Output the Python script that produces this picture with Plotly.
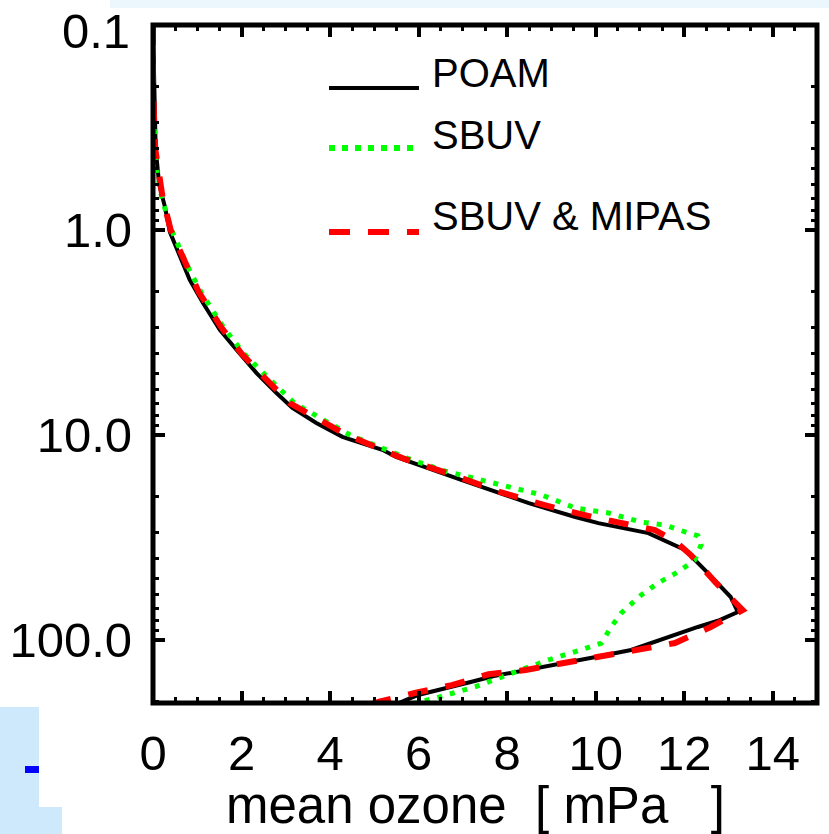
import numpy as np
import plotly.graph_objects as go

# ---- data (pressure in hPa, ozone partial pressure in mPa) ----
poam_p = [0.1, 0.2, 0.4, 0.6, 0.77, 1.02, 1.36, 1.75, 2.27, 3.07, 3.85, 4.99, 6.24, 7.38, 8.74,
          10.2, 11.8, 12.8, 16.6, 19.2, 21.5, 25.1, 26.9, 30.1, 36.4, 45.6, 61.7, 73.0, 80.0,
          86.4, 97.8, 111.9, 121.0, 129.5, 140.0, 150.0, 160.0, 171.0, 185.0, 196.0, 203.0, 215.0]
poam_v = [0.0, 0.02, 0.06, 0.14, 0.27, 0.38, 0.61, 0.83, 1.13, 1.51, 1.89, 2.34, 2.79, 3.15, 3.69,
          4.28, 5.18, 5.49, 6.98, 7.81, 8.49, 9.54, 10.06, 11.19, 12.02, 12.47, 13.05, 13.21, 12.8,
          12.31, 11.57, 10.8, 10.0, 9.3, 8.5, 7.7, 7.2, 6.62, 6.01, 5.72, 5.56, 5.3]

sbuv_p = [0.1, 0.2, 0.3, 0.5, 0.7, 1.0, 1.5, 2.0, 3.0, 4.0, 5.0, 7.0, 10.0, 13.0, 15.0, 17.5,
          19.6, 22.7, 24.0, 26.6, 27.5, 29.7, 31.0, 34.4, 40.7, 46.6, 52.7, 60.3, 73.8, 86.4,
          103.5, 114.0, 125.0, 143.0, 169.0, 190.0, 215.0]
sbuv_v = [0.0, -0.03, 0.02, 0.08, 0.2, 0.42, 0.78, 1.08, 1.6, 2.05, 2.5, 3.2, 4.45, 5.75, 6.6, 7.81,
          8.78, 9.54, 10.29, 11.03, 11.57, 12.02, 12.31, 12.38, 12.24, 11.86, 11.41, 11.03, 10.58, 10.35,
          10.13, 9.54, 8.94, 8.19, 7.29, 6.46, 5.5]

mix_p = [0.1, 0.2, 0.4, 0.7, 1.0, 1.5, 2.0, 3.0, 4.0, 5.0, 7.0, 10.0, 13.0, 16.0, 19.0, 22.0,
         25.0, 29.1, 33.0, 38.5, 52.7, 71.4, 86.4, 103.5, 111.9, 121.0, 129.5, 140.0, 147.0,
         166.0, 181.0, 200.0, 215.0]
mix_v = [0.0, 0.0, 0.05, 0.22, 0.4, 0.75, 1.03, 1.55, 2.0, 2.42, 3.1, 4.38, 5.65, 6.9, 7.85, 8.85,
         9.9, 11.34, 11.8, 12.15, 12.72, 13.32, 12.6, 11.79, 10.96, 10.13, 9.23, 8.42, 7.58,
         6.75, 5.94, 5.11, 4.7]

x_ticks = [0, 2, 4, 6, 8, 10, 12, 14]
y_ticks = [0.1, 1.0, 10.0, 100.0]
y_ticktext = ["0.1", "1.0", "10.0", "100.0"]
legend_names = ["POAM", "SBUV", "SBUV & MIPAS"]
x_title = "mean ozone  [ mPa   ]"

FONT = "Liberation Sans, Arial, Helvetica, sans-serif"
W, H = 829, 834
L, R, T, B = 153, 12, 25, 131
pw, ph = W - L - R, H - T - B


def px(xp):
    return (xp - L) / pw


def py(yp):
    return (H - B - yp) / ph


fig = go.Figure()
fig.add_trace(go.Scatter(x=poam_v, y=poam_p, mode="lines", name=legend_names[0],
                         line=dict(color="#000000", width=4)))
fig.add_trace(go.Scatter(x=sbuv_v, y=sbuv_p, mode="lines", name=legend_names[1],
                         line=dict(color="#00FF00", width=5, dash="5px,8px")))
fig.add_trace(go.Scatter(x=mix_v, y=mix_p, mode="lines", name=legend_names[2],
                         line=dict(color="#FF0000", width=6, dash="20px,18px")))

minor_y = [m * 10.0 ** e for e in range(-1, 3) for m in range(2, 10) if m * 10.0 ** e <= 203]

# the top label (0.1) is drawn slightly lowered, like the original, so it stays inside the page
y_ticktext_axis = [""] + y_ticktext[1:]

x_common = dict(range=[0, 15], tickvals=x_ticks,
                ticks="inside", ticklen=12, tickwidth=4, tickcolor="black",
                showline=False, showgrid=False, zeroline=False,
                minor=dict(ticks="inside", ticklen=6, tickwidth=3, tickcolor="black", dtick=0.5,
                           showgrid=False))

fig.update_layout(
    xaxis=dict(**x_common, ticktext=[str(t) for t in x_ticks], mirror="ticks",
               tickfont=dict(family=FONT, size=49, color="black"), ticklabelstandoff=17,
               ticklabeloverflow="allow"),
    xaxis2=dict(**x_common, overlaying="x", side="top", anchor="y", showticklabels=False),
)
fig.update_yaxes(type="log", range=[np.log10(203), -1.0008], tickvals=y_ticks,
                 ticktext=y_ticktext_axis,
                 ticks="inside", ticklen=12, tickwidth=4, tickcolor="black",
                 mirror="ticks", showline=False, showgrid=False, zeroline=False,
                 minor=dict(ticks="inside", ticklen=6, tickwidth=3, tickcolor="black",
                            tickmode="array", tickvals=minor_y, showgrid=False),
                 tickfont=dict(family=FONT, size=49, color="black"), ticklabelstandoff=20,
                 ticklabeloverflow="allow")

shapes = []
# frame
shapes.append(dict(type="rect", xref="paper", yref="paper", x0=0, x1=1, y0=0, y1=1,
                   line=dict(color="black", width=5), layer="above"))
# legend samples
leg_y = [88, 148, 232]
leg_style = [dict(color="#000000", width=4), dict(color="#00FF00", width=6, dash="6px,7px"),
             dict(color="#FF0000", width=6, dash="21px,18px")]
for yy, st in zip(leg_y, leg_style):
    shapes.append(dict(type="line", xref="paper", yref="paper", x0=px(329), x1=px(419),
                       y0=py(yy), y1=py(yy), line=st))
# screenshot background artifacts
shapes.append(dict(type="rect", xref="paper", yref="paper", x0=px(110), x1=px(829),
                   y0=py(8), y1=py(0), fillcolor="#EBF6FD", line=dict(width=0), layer="below"))
shapes.append(dict(type="rect", xref="paper", yref="paper", x0=px(0), x1=px(39),
                   y0=py(834), y1=py(707), fillcolor="#CDE9FB", line=dict(width=0), layer="below"))
shapes.append(dict(type="rect", xref="paper", yref="paper", x0=px(0), x1=px(62),
                   y0=py(834), y1=py(807), fillcolor="#CDE9FB", line=dict(width=0), layer="below"))
shapes.append(dict(type="rect", xref="paper", yref="paper", x0=px(25), x1=px(39),
                   y0=py(773), y1=py(766), fillcolor="#0000FF", line=dict(width=0), layer="above"))

annotations = []
# top y tick label
annotations.append(dict(text=y_ticktext[0], xref="paper", yref="paper", x=px(132), y=py(31),
                        xanchor="right", yanchor="middle", showarrow=False,
                        font=dict(family=FONT, size=49, color="black")))
leg_text_y = [73, 135, 216]
for name, yy in zip(legend_names, leg_text_y):
    annotations.append(dict(text=name, xref="paper", yref="paper", x=px(430), y=py(yy),
                            xanchor="left", yanchor="middle", showarrow=False,
                            font=dict(family=FONT, size=40, color="black")))
annotations.append(dict(text=x_title, xref="paper", yref="paper",
                        x=px(475), y=py(805), xanchor="center", yanchor="middle", showarrow=False,
                        font=dict(family=FONT, size=51, color="black")))

fig.update_layout(width=W, height=H, margin=dict(l=L, r=R, t=T, b=B, autoexpand=False),
                  paper_bgcolor="white", plot_bgcolor="white", showlegend=False,
                  shapes=shapes, annotations=annotations)

fig.write_html("out.html", config={"displayModeBar": False},
               post_script="document.body.style.margin='0';")
